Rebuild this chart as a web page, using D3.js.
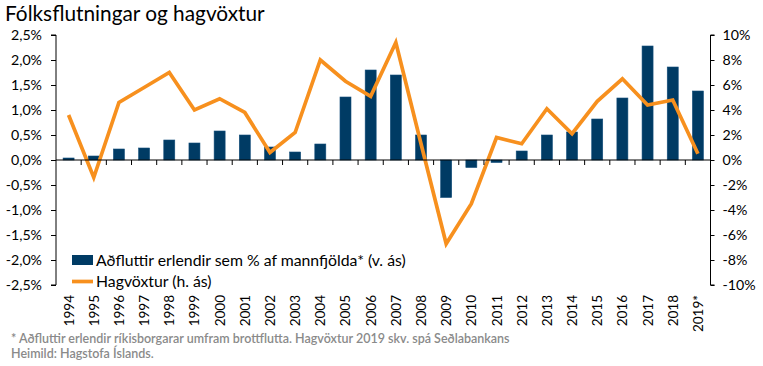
<!DOCTYPE html>
<html><head><meta charset="utf-8">
<script src="https://cdn.jsdelivr.net/npm/d3@7"></script>
<style>
body{margin:0;background:#fff;}
svg{display:block;font-family:"Lato","Open Sans",sans-serif;}
</style></head>
<body><svg id="c" width="763" height="366"></svg>
<script>
const years = ["1994","1995","1996","1997","1998","1999","2000","2001","2002","2003","2004","2005","2006","2007","2008","2009","2010","2011","2012","2013","2014","2015","2016","2017","2018","2019*"];
const migration = [0.04,0.08,0.22,0.24,0.40,0.34,0.58,0.50,0.26,0.16,0.32,1.26,1.80,1.70,0.50,-0.75,-0.15,-0.05,0.18,0.50,0.56,0.82,1.24,2.28,1.86,1.38];
const growth = [3.6,-1.4,4.6,5.8,7.0,4.0,4.9,3.8,0.6,2.2,8.0,6.3,5.1,9.4,1.3,-6.7,-3.5,1.8,1.3,4.1,2.1,4.7,6.5,4.4,4.8,0.5];
const leftTicks = [2.5,2.0,1.5,1.0,0.5,0.0,-0.5,-1.0,-1.5,-2.0,-2.5];
const rightTicks = [10,8,6,4,2,0,-2,-4,-6,-8,-10];
const title = "Fólksflutningar og hagvöxtur";
const legendLabels = ["Aðfluttir erlendir sem % af mannfjölda* (v. ás)","Hagvöxtur (h. ás)"];
const notes = ["* Aðfluttir erlendir ríkisborgarar umfram brottflutta. Hagvöxtur 2019 skv. spá Seðlabankans","Heimild: Hagstofa Íslands."];

const barColor = "#003b64", lineColor = "#f7901e";
const svg = d3.select("#c");
const L = 56, R = 710.5, T = 35, B = 285;

const x = d3.scaleBand().domain(years).range([L, R]);
const yL = d3.scaleLinear().domain([-2.5, 2.5]).range([B, T]);
const yR = d3.scaleLinear().domain([-10, 10]).range([B, T]);
const fmtL = d => d3.format(".1f")(d).replace(".", ",").replace("−","-") + "%";
const fmtR = d => d + "%";

svg.append("text").attr("x", 5).attr("y", 21).attr("font-size", 20.8).attr("fill", "#000").text(title);

// bars
const bw = 11;
svg.append("g").selectAll("rect").data(migration).join("rect")
  .attr("x", (d, i) => x(years[i]) + x.bandwidth() / 2 - bw / 2)
  .attr("width", bw)
  .attr("y", d => yL(Math.max(0, d)))
  .attr("height", d => Math.abs(yL(d) - yL(0)))
  .attr("fill", barColor).attr("stroke", "#124d7a").attr("stroke-width", 0.6);

// line
const line = d3.line().x((d, i) => x(years[i]) + x.bandwidth() / 2).y(d => yR(d));
svg.append("path").datum(growth).attr("d", line).attr("fill", "none")
  .attr("stroke", lineColor).attr("stroke-width", 3.7).attr("stroke-linejoin", "miter");

// left axis
const gL = svg.append("g").attr("transform", `translate(${L},0)`)
  .call(d3.axisLeft(yL).tickValues(leftTicks).tickFormat(fmtL).tickSize(5).tickPadding(9));
gL.selectAll("text").attr("font-size", 14.2).attr("font-family", "Lato, sans-serif").attr("fill", "#000");
gL.selectAll("line,path").attr("stroke", "#000");
gL.select(".domain").attr("d", `M-5,${T}H0V${B}H-5`);

// right axis
const gR = svg.append("g").attr("transform", `translate(${R},0)`)
  .call(d3.axisRight(yR).tickValues(rightTicks).tickFormat(fmtR).tickSize(4).tickPadding(8));
gR.selectAll("text").attr("font-size", 14.2).attr("font-family", "Lato, sans-serif").attr("fill", "#000");
gR.selectAll("line,path").attr("stroke", "#000");
gR.select(".domain").attr("d", `M4,${T}H0V${B}H4`);

// x axis at zero
const y0 = yL(0);
const gX = svg.append("g");
gX.append("line").attr("x1", L).attr("x2", R).attr("y1", y0).attr("y2", y0).attr("stroke", "#000");
gX.selectAll("line.t").data(years.slice(1)).join("line").attr("class", "t")
  .attr("x1", d => x(d)).attr("x2", d => x(d)).attr("y1", y0).attr("y2", y0 + 5).attr("stroke", "#000");

// x labels
svg.append("g").selectAll("text").data(years).join("text")
  .attr("transform", d => `translate(${x(d) + x.bandwidth() / 2 + 5},295) rotate(-90)`)
  .attr("text-anchor", "end").attr("font-size", 13.5).attr("fill", "#000").text(d => d);

// legend
const lg = svg.append("g");
lg.append("rect").attr("x", 72).attr("y", 255).attr("width", 21).attr("height", 10).attr("fill", barColor);
lg.append("text").attr("x", 96).attr("y", 265.5).attr("font-size", 15.8).attr("fill", "#000").text(legendLabels[0]);
lg.append("line").attr("x1", 72).attr("x2", 93).attr("y1", 281.5).attr("y2", 281.5).attr("stroke", lineColor).attr("stroke-width", 3.7);
lg.append("text").attr("x", 96).attr("y", 287).attr("font-size", 15.8).attr("fill", "#000").text(legendLabels[1]);

// notes
svg.append("g").selectAll("text").data(notes).join("text")
  .attr("x", 11).attr("y", (d, i) => 343 + i * 15).attr("font-size", 12.5).attr("font-weight", 600)
  .attr("fill", "#8a8a8a").text(d => d);
</script></body></html>
